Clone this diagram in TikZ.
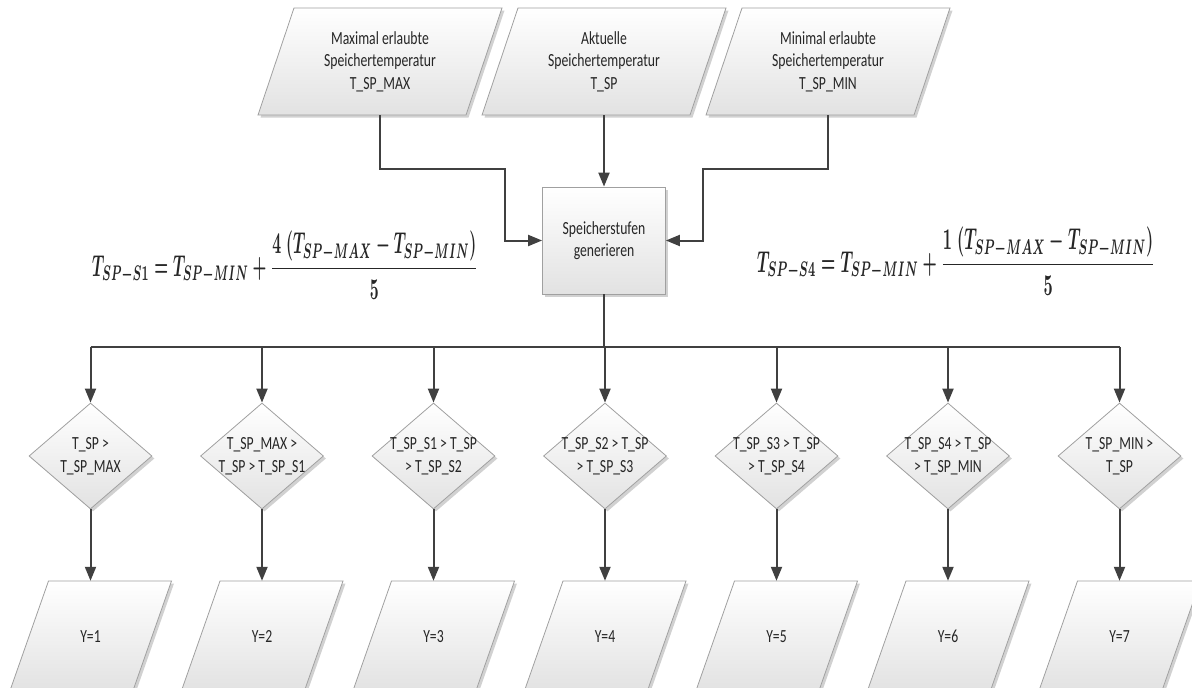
\documentclass[tikz,border=0pt]{standalone}
\usepackage{fontspec}
\usepackage{graphicx}
\newfontfamily\lblfont{Carlito}[FakeStretch=0.74]
\usetikzlibrary{shapes.geometric,arrows.meta,shadows,calc}
\definecolor{edgec}{HTML}{A0A0A0}
\definecolor{wirec}{HTML}{404040}
\definecolor{inkc}{HTML}{262626}
\definecolor{fillb}{HTML}{E2E2E2}
% zero-width line so that long conditions may overhang the diamond outline
\newcommand{\zw}[1]{\makebox[0pt]{#1}}
% slanted data block: name, centre, edge length, height, shear, text
\newcommand{\slab}[6]{%
  \path[card] ($#2+(-#3/2-#5/2,#4/2)$) -- ++(#3,0) -- ++(#5,-#4) -- ++(-#3,0) -- cycle;
  \node[lbl, minimum width=#3pt, minimum height=#4pt, inner sep=0pt] (#1) at #2 {#6};
}
\begin{document}
\begin{tikzpicture}[x=1pt,y=-1pt,
  lbl/.style={font=\lblfont\fontsize{18.5}{22.5}\selectfont, text=inkc, align=center},
  card/.style={draw=edgec, line width=0.8pt, top color=white, bottom color=fillb,
    drop shadow={shadow xshift=2.5pt, shadow yshift=-2.5pt, opacity=0.18, fill=black}},
  proc/.style={lbl, card, rectangle, minimum width=123pt, minimum height=107pt, inner sep=0pt},
  test/.style={lbl, card, diamond, minimum width=123pt, minimum height=106pt, inner sep=0pt},
  wire/.style={draw=wirec, line width=2pt},
  flow/.style={wire, -{Triangle[length=14pt,width=11pt]}},
  formula/.style={inner sep=0pt, anchor=west, text=inkc},
]
\useasboundingbox (0,0) rectangle (1192,688);

% inputs
\slab{tmax}{(380,61.5)}{208}{107}{36}{Maximal erlaubte\\Speichertemperatur\\T\_SP\_MAX}
\slab{tsp}{(604,61.5)}{208}{107}{36}{Aktuelle\\Speichertemperatur\\T\_SP}
\slab{tmin}{(828,61.5)}{208}{107}{36}{Minimal erlaubte\\Speichertemperatur\\T\_SP\_MIN}

% process
\node[proc] (gen) at (604,240.5) {Speicherstufen\\generieren};

% stage formulas
\node[formula] (fs1) at (92,265)
  {\resizebox*{386pt}{68pt}{\boldmath$\displaystyle T_{SP-S1}=T_{SP-MIN}+\frac{4\;(T_{SP-MAX}-T_{SP-MIN})}{5}$}};
\node[formula] (fs4) at (757,261)
  {\resizebox*{398pt}{68pt}{\boldmath$\displaystyle T_{SP-S4}=T_{SP-MIN}+\frac{1\;(T_{SP-MAX}-T_{SP-MIN})}{5}$}};

% decisions
\node[test] (d1) at (90.5,456)  {\zw{T\_SP >}\\\zw{T\_SP\_MAX}};
\node[test] (d2) at (262,456)   {\zw{T\_SP\_MAX >}\\\zw{T\_SP > T\_SP\_S1}};
\node[test] (d3) at (433.5,456) {\zw{T\_SP\_S1 > T\_SP}\\\zw{> T\_SP\_S2}};
\node[test] (d4) at (605,456)   {\zw{T\_SP\_S2 > T\_SP}\\\zw{> T\_SP\_S3}};
\node[test] (d5) at (776.5,456) {\zw{T\_SP\_S3 > T\_SP}\\\zw{> T\_SP\_S4}};
\node[test] (d6) at (948,456)   {\zw{T\_SP\_S4 > T\_SP}\\\zw{> T\_SP\_MIN}};
\node[test] (d7) at (1119.5,456){\zw{T\_SP\_MIN >}\\\zw{T\_SP}};

% outputs
\slab{y1}{(90.5,636.5)}{123}{111}{39}{Y=1}
\slab{y2}{(262,636.5)}{123}{111}{39}{Y=2}
\slab{y3}{(433.5,636.5)}{123}{111}{39}{Y=3}
\slab{y4}{(605,636.5)}{123}{111}{39}{Y=4}
\slab{y5}{(776.5,636.5)}{123}{111}{39}{Y=5}
\slab{y6}{(948,636.5)}{123}{111}{39}{Y=6}
\slab{y7}{(1119.5,636.5)}{123}{111}{39}{Y=7}

% connectors into the process
\coordinate (jl) at (505,169);
\coordinate (jr) at (703,169);
\draw[flow] (tmax.south) |- (jl) |- (gen.west);
\draw[flow] (gen.north |- tsp.south) -- (gen.north);
\draw[flow] (tmin.south) |- (jr) |- (gen.east);

% distribution bus
\coordinate (bus) at (604,347);
\draw[wire] (gen.south) -- (bus);
\draw[wire] (d1.north |- bus) -- (d7.north |- bus);
\foreach \i in {1,...,7}{
  \draw[flow] (d\i.north |- bus) -- (d\i.north);
  \draw[flow] (d\i.south) -- (y\i.north);
}
\end{tikzpicture}
\end{document}
